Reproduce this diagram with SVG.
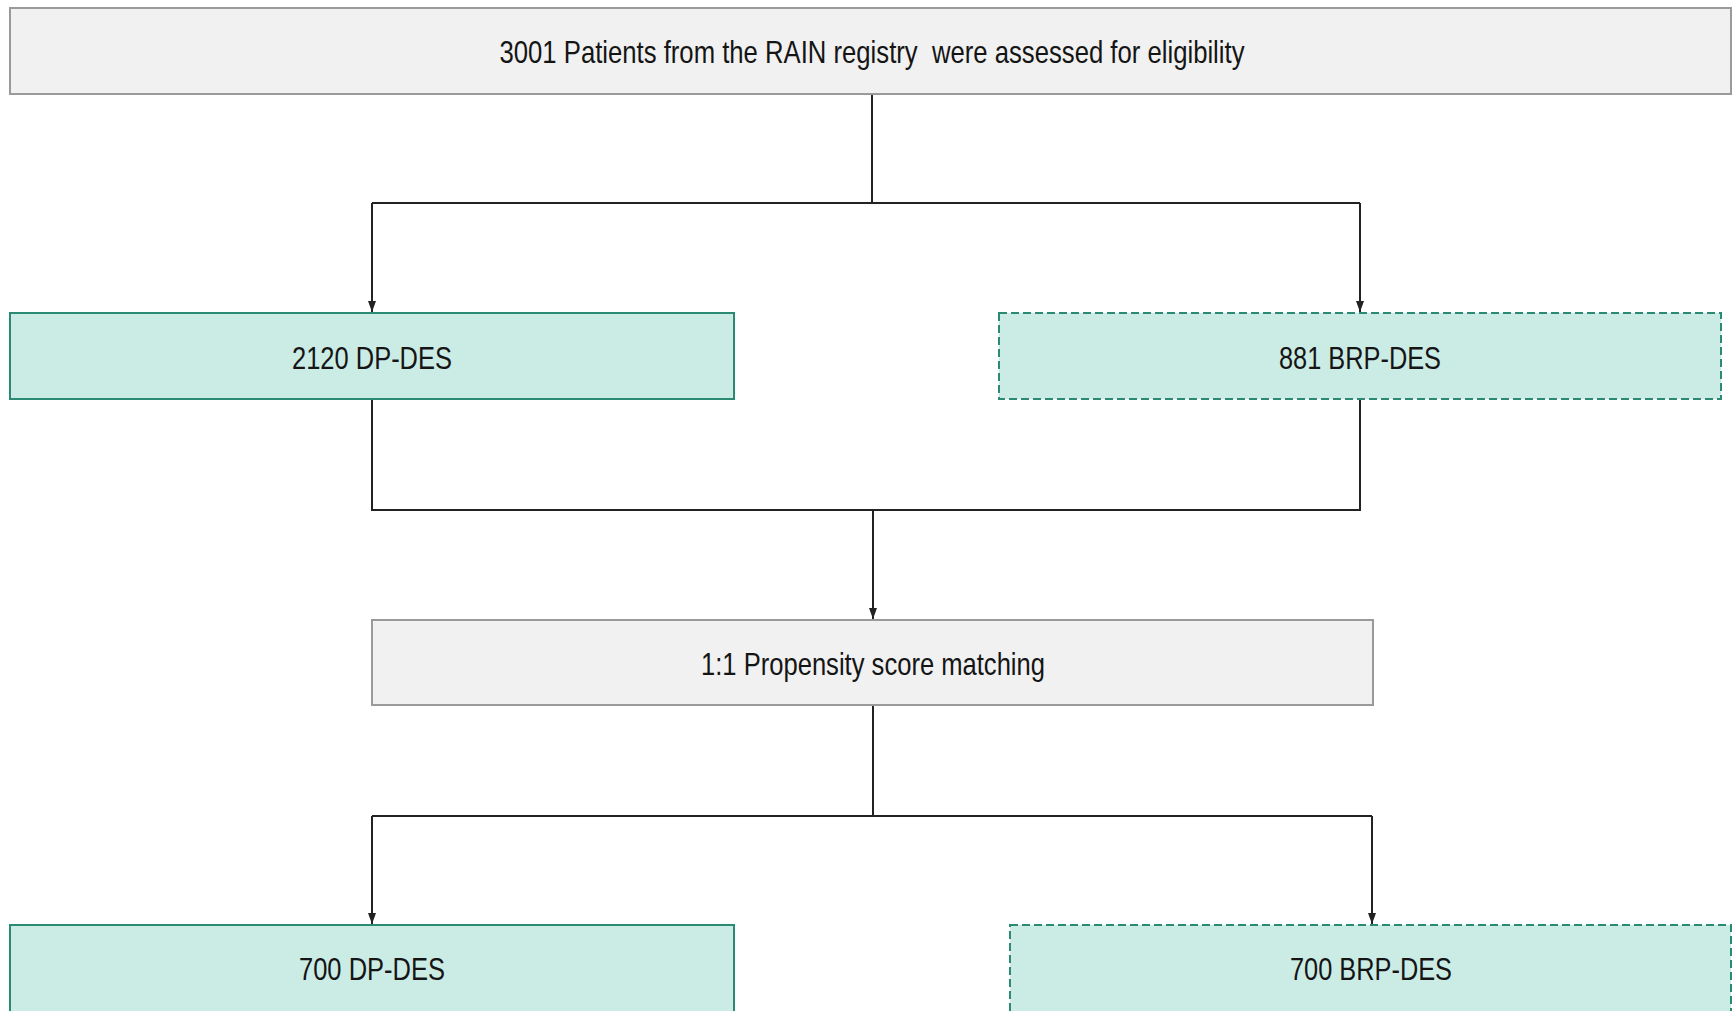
<svg xmlns="http://www.w3.org/2000/svg" width="1733" height="1011" viewBox="0 0 1733 1011">
<style>
.grey{fill:#f1f1f1;stroke:#9a9a9a;stroke-width:2}
.teal{fill:#cbece5;stroke:#2a8a74;stroke-width:2}
.dash{stroke-dasharray:8 4}
.lbl{font-family:"Liberation Sans",Arial,sans-serif;font-size:32px;fill:#151515;text-anchor:middle}
.con{fill:none;stroke:#222;stroke-width:2}
</style>
<defs>
<marker id="arr" markerUnits="userSpaceOnUse" markerWidth="13" markerHeight="10" refX="11" refY="5" orient="auto">
<path d="M0,1 L11,5 L0,9 Z" fill="#222"/>
</marker>
</defs>
<rect width="1733" height="1011" fill="#fff"/>
<g id="connectors">
<path class="con" d="M872,94 V203"/>
<path class="con" d="M372,203 H1360"/>
<path class="con" d="M372,203 V312" marker-end="url(#arr)"/>
<path class="con" d="M1360,203 V312" marker-end="url(#arr)"/>
<path class="con" d="M372,399 V510 H1360 V399"/>
<path class="con" d="M873,510 V619" marker-end="url(#arr)"/>
<path class="con" d="M873,705 V816"/>
<path class="con" d="M372,816 H1372"/>
<path class="con" d="M372,816 V924" marker-end="url(#arr)"/>
<path class="con" d="M1372,816 V924" marker-end="url(#arr)"/>
</g>
<g id="n-assessed">
<rect class="grey" x="10" y="8" width="1721" height="86"/>
<text class="lbl" x="872" y="63" textLength="745" lengthAdjust="spacingAndGlyphs" xml:space="preserve">3001 Patients from the RAIN registry  were assessed for eligibility</text>
</g>
<g id="n-dp">
<rect class="teal" x="10" y="313" width="724" height="86"/>
<text class="lbl" x="372" y="369" textLength="160" lengthAdjust="spacingAndGlyphs">2120 DP-DES</text>
</g>
<g id="n-brp">
<rect class="teal dash" x="999" y="313" width="722" height="86"/>
<text class="lbl" x="1360" y="369" textLength="162" lengthAdjust="spacingAndGlyphs">881 BRP-DES</text>
</g>
<g id="n-psm">
<rect class="grey" x="372" y="620" width="1001" height="85"/>
<text class="lbl" x="873" y="675" textLength="344" lengthAdjust="spacingAndGlyphs">1:1 Propensity score matching</text>
</g>
<g id="n-dp700">
<rect class="teal" x="10" y="925" width="724" height="90"/>
<text class="lbl" x="372" y="980" textLength="146" lengthAdjust="spacingAndGlyphs">700 DP-DES</text>
</g>
<g id="n-brp700">
<rect class="teal dash" x="1010" y="925" width="721" height="90"/>
<text class="lbl" x="1371" y="980" textLength="162" lengthAdjust="spacingAndGlyphs">700 BRP-DES</text>
</g>
</svg>
